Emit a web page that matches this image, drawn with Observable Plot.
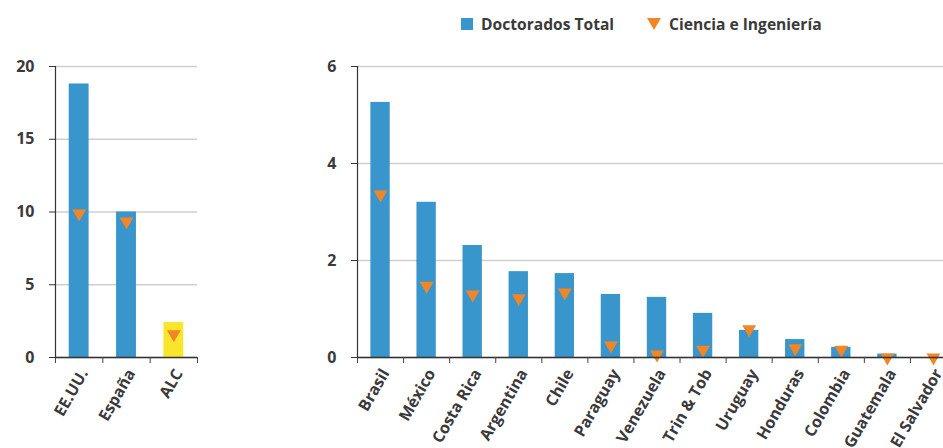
<!DOCTYPE html>
<html><head><meta charset="utf-8">
<script src="https://cdn.jsdelivr.net/npm/d3@7"></script>
<script src="https://cdn.jsdelivr.net/npm/@observablehq/plot@0.6"></script>
<style>
html,body{margin:0;padding:0;overflow:hidden;background:#fff;}
#wrap{position:relative;width:943px;height:448px;overflow:hidden;font-family:"Open Sans",Lato,sans-serif;}
#left{position:absolute;left:0;top:0;width:210px;}
#right{position:absolute;left:300px;top:0;width:656px;}
#wrap svg{max-width:none !important;}
.leg{position:absolute;top:13px;display:flex;align-items:center;font-weight:700;font-size:15.6px;color:#3a3a3a;white-space:nowrap;}
.sq{width:12px;height:12px;background:#3896CD;margin-right:8px;}
.tri{width:0;height:0;border-left:7px solid transparent;border-right:7px solid transparent;border-top:12px solid #F28526;margin-right:8px;}
</style></head>
<body>
<div id="wrap">
  <div id="left"></div>
  <div id="right"></div>
  <div class="leg" style="left:461px"><div class="sq"></div><span>Doctorados Total</span></div>
  <div class="leg" style="left:647px"><div class="tri"></div><span>Ciencia e Ingeniería</span></div>
</div>
<script>
// ---- data ----
const refCats = ["EE.UU.", "España", "ALC"];
const refTotal = [18.8, 10.0, 2.4];
const refCI = [9.9, 9.35, 1.6];
const highlight = ["ALC"];

const lacCats = ["Brasil", "México", "Costa Rica", "Argentina", "Chile", "Paraguay", "Venezuela",
  "Trin & Tob", "Uruguay", "Honduras", "Colombia", "Guatemala", "El Salvador"];
const lacTotal = [5.26, 3.2, 2.31, 1.77, 1.73, 1.3, 1.24, 0.91, 0.56, 0.37, 0.21, 0.07, 0.0];
const lacCI = [3.36, 1.48, 1.30, 1.22, 1.34, 0.25, 0.06, 0.16, 0.58, 0.19, 0.16, 0.0, 0.0];

const leftTicks = [0, 5, 10, 15, 20];
const rightTicks = [0, 2, 4, 6];

// ---- style ----
const BLUE = "#3896CD", ORANGE = "#F28526", YELLOW = "#F8E52C";
const FONT = "'Open Sans', Lato, sans-serif";

const triangleDown = {
  draw(context, size) {
    const y = Math.sqrt(size / (3 * Math.sqrt(3)));
    context.moveTo(0, 2 * y);
    context.lineTo(Math.sqrt(3) * y, -y);
    context.lineTo(-Math.sqrt(3) * y, -y);
    context.closePath();
  }
};

function chart({cats, total, ci, ticks, width, marginLeft, marginRight}) {
  const rows = cats.map((c, i) => ({cat: c, total: total[i], ci: ci[i]}));
  const yMax = ticks[ticks.length - 1];
  const step = (width - marginLeft - marginRight) / cats.length;
  return Plot.plot({
    width, height: 448, marginLeft, marginRight, marginTop: 66, marginBottom: 91,
    style: {fontFamily: FONT, fontSize: "16px", fontWeight: 700, color: "#3a3a3a", background: "transparent", overflow: "visible", maxWidth: "none"},
    x: {domain: cats, paddingInner: 0.58, paddingOuter: 0.29, round: false, label: null},
    y: {domain: [0, yMax], label: null},
    marks: [
      Plot.gridY(ticks, {stroke: "#cfcfcf", strokeOpacity: 1, strokeWidth: 1.6}),
      Plot.barY(rows, {x: "cat", y: "total", fill: d => highlight.includes(d.cat) ? YELLOW : BLUE}),
      Plot.dot(rows, {x: "cat", y: "ci", symbol: triangleDown, r: 5.14, fill: ORANGE, stroke: null}),
      Plot.ruleY([0], {stroke: "#333", strokeWidth: 1.5}),
      Plot.ruleX([cats[0]], {x: d => d, dx: -step / 2, y1: 0, y2: yMax, stroke: "#333", strokeWidth: 1.2}),
      Plot.axisY(ticks, {tickSize: 6, tickPadding: 15, stroke: "#333", fontSize: 16, fontWeight: 700}),
      Plot.axisX(cats, {tickSize: 0, tickRotate: -60, tickPadding: 13, dx: 5, fontSize: 16, fontWeight: 700}),
      Plot.axisX(cats, {tickSize: 6, tickFormat: () => "", dx: -step / 2, stroke: "#444"}),
      Plot.axisX([cats[cats.length - 1]], {tickSize: 6, tickFormat: () => "", dx: step / 2, stroke: "#444"})
    ]
  });
}

document.getElementById("left").append(chart({
  cats: refCats, total: refTotal, ci: refCI, ticks: leftTicks,
  width: 210, marginLeft: 55, marginRight: 13
}));
document.getElementById("right").append(chart({
  cats: lacCats, total: lacTotal, ci: lacCI, ticks: rightTicks,
  width: 656, marginLeft: 57, marginRight: 0
}));
</script>
</body></html>
